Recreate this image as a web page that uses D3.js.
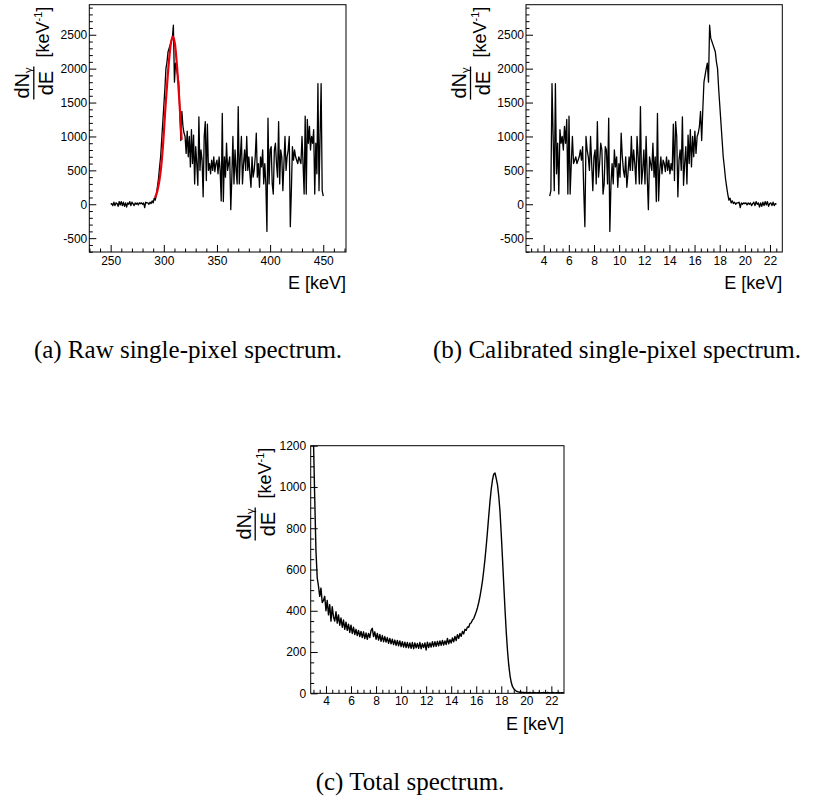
<!DOCTYPE html>
<html>
<head>
<meta charset="utf-8">
<script src="https://cdn.jsdelivr.net/npm/d3@7"></script>
<style>
  body { margin: 0; background: #fff; }
  svg text { font-family: "Liberation Sans", Arial, Helvetica, sans-serif; fill: #000; }
  svg text.caption { font-family: "Liberation Serif", "Times New Roman", serif; }
</style>
</head>
<body>
<div id="figure"></div>
<script>
// ---- Data ----

// raw single-pixel spectrum: one bin per raw unit, starting at 250
const rawStart = 250;
const rawStep = 1;
const rawCounts = [
  0, 10, -20, 30, -20, 20, 10, -30, 40, -10,
  40, -20, 30, -30, 20, -40, 20, 0, 40, -20,
  30, 10, -20, 20, 0, 20, -10, 20, 10, 20,
  0, 20, -50, 30, 20, 20, 0, 30, 10, 50,
  20, 90, 60, 150, 260, 380, 550, 700, 950, 1200,
  1450, 1700, 2000, 2100, 2250, 2300, 2350, 2400, 2450, 2640,
  1800, 2080, 2000, 1900, 1800, 1400, 940, 1370, 1150, 1050,
  1000, 750, 1080, 700, 1000, 550, 1100, 600, 1020, 300,
  850, 600, 280, 1290, 500, 800, 650, 110, 1000, 1220,
  350, 1180, 500, 600, 450, 650, 500, 700, 480, 600,
  650, 450, 700, 500, 50, 1340, 40, 700, 400, 900,
  500, 600, 700, -80, 400, 1000, 300, 800, 500, 300,
  1440, 300, 700, 1000, 300, 600, 800, 500, 1000, 500,
  700, 450, 250, 700, 400, 500, 700, 1050, 400, 600,
  250, 700, 550, 800, 300, 600, 300, -400, 1270, 300,
  800, 850, 300, 150, 800, 900, 600, 400, 1220, 300,
  800, 700, 200, 600, 1000, 500, 700, 800, 1000, -330,
  200, 850, 650, 800, 700, 650, 600, 700, 650, 600,
  1000, 600, 150, 1300, 150, 1250, 900, 1150, 800, 1000,
  900, 1100, 150, 900, 450, 1780, 200, 1000, 1780, 200,
  120
];

// red fit curve over the peak, [raw, counts]
const fitPoints = [
  [291.7, 97], [294, 200], [297, 480], [299, 820], [301.7, 1466],
  [304.8, 2105], [306.5, 2360], [308.6, 2474], [310.5, 2360],
  [312.5, 2020], [314.5, 1560], [316.8, 949]
];

// linear calibration raw -> keV
const calibOffset = 45.07;
const calibGain = -0.0902;

// total spectrum, 0.1 keV bins starting at 2.9 keV
const totalStart = 2.9;
const totalStep = 0.1;
const totalCounts = [
  1500, 1230, 950, 690, 560, 520, 470, 510, 440, 450,
  470, 400, 450, 380, 430, 350, 420, 370, 350, 395,
  340, 380, 330, 365, 320, 355, 310, 345, 305, 335,
  295, 330, 290, 320, 285, 310, 280, 305, 275, 300,
  270, 298, 265, 292, 262, 290, 270, 305, 315, 275,
  298, 262, 290, 258, 285, 252, 280, 250, 275, 248,
  270, 242, 266, 240, 262, 236, 258, 232, 256, 230,
  254, 226, 250, 224, 248, 222, 246, 220, 244, 218,
  246, 216, 244, 220, 242, 218, 246, 216, 240, 222,
  244, 210, 248, 222, 244, 224, 250, 226, 250, 228,
  252, 230, 254, 232, 256, 234, 254, 236, 266, 240,
  260, 244, 268, 250, 276, 256, 284, 266, 290, 276,
  300, 288, 310, 305, 322, 320, 338, 342, 355, 362,
  378, 395, 415, 440, 470, 505, 545, 595, 650, 715,
  785, 860, 930, 990, 1035, 1062, 1068, 1040, 1010, 955,
  880, 770, 650, 525, 405, 295, 205, 135, 85, 52,
  32, 22, 15, 11, 8, 6, 5, 5, 4, 4,
  3, 4, 3, 3, 4, 2, 3, 4, 3, 2,
  3, 4, 2, 3, 3, 4, 2, 3, 4, 3,
  2, 3, 4, 3, 2, 3, 3, 4, 2, 3,
  3, 2
];

// tick labels
const rawTicks = [250, 300, 350, 400, 450];
const rawMinorTicks = [230, 240, 260, 270, 280, 290, 310, 320, 330, 340, 360, 370, 380, 390, 410, 420, 430, 440, 460, 470];
const keVTicks = [4, 6, 8, 10, 12, 14, 16, 18, 20, 22];
const keVMinorTicks = [3, 3.5, 4.5, 5, 5.5, 6.5, 7, 7.5, 8.5, 9, 9.5, 10.5, 11, 11.5, 12.5, 13, 13.5,
  14.5, 15, 15.5, 16.5, 17, 17.5, 18.5, 19, 19.5, 20.5, 21, 21.5, 22.5];
const singleCountTicks = [-500, 0, 500, 1000, 1500, 2000, 2500];
const singleCountMinor = [-700, -600, -400, -300, -200, -100, 100, 200, 300, 400, 600, 700, 800, 900,
  1100, 1200, 1300, 1400, 1600, 1700, 1800, 1900, 2100, 2200, 2300, 2400, 2600, 2700, 2800, 2900];
const totalCountTicks = [0, 200, 400, 600, 800, 1000, 1200];
const totalCountMinor = [50, 100, 150, 250, 300, 350, 450, 500, 550, 650, 700, 750, 850, 900, 950, 1050, 1100, 1150];

const captions = [
  { text: '(a) Raw single-pixel spectrum.', x: 188, y: 358 },
  { text: '(b) Calibrated single-pixel spectrum.', x: 617, y: 358 },
  { text: '(c) Total spectrum.', x: 410, y: 790 }
];

// build point tables
const rawData = rawCounts.map((c, i) => ({ x: rawStart + i * rawStep, y: c }));
const calibData = rawData.map(d => ({ x: calibOffset + calibGain * d.x, y: d.y }));
const totalData = totalCounts.map((c, i) => ({ x: totalStart + i * totalStep, y: c }));
const fitData = fitPoints.map(p => ({ x: p[0], y: p[1] }));

class SpectrumPlot {

  constructor(_config, _data) {
    this.config = {
      svg: _config.svg,
      id: _config.id,
      frame: _config.frame,
      xDomain: _config.xDomain,
      yDomain: _config.yDomain,
      xTicks: _config.xTicks,
      xMinor: _config.xMinor,
      yTicks: _config.yTicks,
      yMinor: _config.yMinor,
      yLabelGap: _config.yLabelGap || 2,
      xLabelY: _config.xLabelY || 13,
      lineWidth: _config.lineWidth || 1.3,
      fit: _config.fit || null
    };
    this.data = _data;
    this.initVis();
  }

  initVis() {
    let vis = this;
    const f = vis.config.frame;

    vis.xScale = d3.scaleLinear().range([0, f.width]);
    vis.yScale = d3.scaleLinear().range([f.height, 0]);

    vis.g = vis.config.svg.append('g')
      .attr('transform', `translate(${f.left},${f.top})`);

    vis.g.append('clipPath')
      .attr('id', `clip-${vis.config.id}`)
      .append('rect')
      .attr('width', f.width)
      .attr('height', f.height);

    vis.plotG = vis.g.append('g').attr('clip-path', `url(#clip-${vis.config.id})`);
    vis.xAxisG = vis.g.append('g').attr('transform', `translate(0,${f.height})`);
    vis.xMinorG = vis.g.append('g').attr('transform', `translate(0,${f.height})`);
    vis.yAxisG = vis.g.append('g');
    vis.yMinorG = vis.g.append('g');

    vis.updateVis();
  }

  updateVis() {
    let vis = this;
    vis.xScale.domain(vis.config.xDomain);
    vis.yScale.domain(vis.config.yDomain);

    vis.xAxis = d3.axisBottom(vis.xScale).tickValues(vis.config.xTicks)
      .tickSize(-7).tickFormat(d => String(d));
    vis.xMinorAxis = d3.axisBottom(vis.xScale).tickValues(vis.config.xMinor)
      .tickSize(-3.5).tickFormat('');
    vis.yAxis = d3.axisLeft(vis.yScale).tickValues(vis.config.yTicks)
      .tickSize(-7).tickPadding(vis.config.yLabelGap).tickFormat(d => String(d));
    vis.yMinorAxis = d3.axisLeft(vis.yScale).tickValues(vis.config.yMinor)
      .tickSize(-3.5).tickFormat('');

    vis.renderVis();
  }

  renderVis() {
    let vis = this;
    const f = vis.config.frame;

    const line = d3.line()
      .x(d => vis.xScale(d.x))
      .y(d => vis.yScale(d.y));

    vis.plotG.append('path')
      .datum(vis.data)
      .attr('fill', 'none')
      .attr('stroke', '#000')
      .attr('stroke-width', vis.config.lineWidth)
      .attr('stroke-linejoin', 'round')
      .attr('d', line);

    if (vis.config.fit) {
      vis.plotG.append('path')
        .datum(vis.config.fit)
        .attr('fill', 'none')
        .attr('stroke', '#e8000b')
        .attr('stroke-width', 2.2)
        .attr('d', line.curve(d3.curveMonotoneX));
    }

    [vis.xAxisG.call(vis.xAxis), vis.xMinorG.call(vis.xMinorAxis),
     vis.yAxisG.call(vis.yAxis), vis.yMinorG.call(vis.yMinorAxis)].forEach(a => {
      a.select('.domain').remove();
      a.selectAll('line').attr('stroke', '#000').attr('stroke-width', 1);
      a.attr('font-size', 12).attr('font-family', null);
    });
    vis.xAxisG.selectAll('text').attr('dy', null).attr('y', vis.config.xLabelY);

    // frame
    vis.g.append('rect')
      .attr('width', f.width)
      .attr('height', f.height)
      .attr('fill', 'none')
      .attr('stroke', '#000')
      .attr('stroke-width', 1);

    // x title
    vis.g.append('text')
      .attr('x', f.width)
      .attr('y', f.height + 37)
      .attr('text-anchor', 'end')
      .attr('font-size', 18)
      .text('E [keV]');

    // y title, rotated, aligned to the top of the axis
    const yt = vis.g.append('g').attr('transform', 'rotate(-90)');
    const unit = yt.append('text')
      .attr('x', -2)
      .attr('y', -40)
      .attr('text-anchor', 'end')
      .attr('font-size', 18);
    unit.append('tspan').text('[keV');
    unit.append('tspan').attr('font-size', 11).attr('dy', -7).text('-1');
    unit.append('tspan').attr('dy', 7).text(']');
    const unitW = unit.node().getComputedTextLength();

    const num = yt.append('text').attr('font-size', 20).attr('y', -60);
    num.append('tspan').text('dN');
    num.append('tspan').attr('font-size', 11).attr('dy', 3).text('γ');
    const den = yt.append('text').attr('font-size', 20).attr('y', -36).text('dE');
    const numW = num.node().getComputedTextLength();
    const denW = den.node().getComputedTextLength();
    const fracW = Math.max(numW, denW) + 2;
    const cx = -(2 + unitW + 9 + fracW / 2);
    num.attr('x', cx - numW / 2);
    den.attr('x', cx - denW / 2);
    yt.append('line')
      .attr('x1', cx - fracW / 2).attr('x2', cx + fracW / 2)
      .attr('y1', -55.5).attr('y2', -55.5)
      .attr('stroke', '#000').attr('stroke-width', 1.3);
  }
}

const svg = d3.select('#figure').append('svg')
  .attr('width', 818)
  .attr('height', 806);

new SpectrumPlot({
  svg, id: 'a',
  frame: { left: 89.3, top: 4.7, width: 256.7, height: 247.3 },
  xDomain: [229.9, 471.4], yDomain: [-704, 2943],
  xTicks: rawTicks, xMinor: rawMinorTicks,
  yTicks: singleCountTicks, yMinor: singleCountMinor,
  yLabelGap: 2, xLabelY: 13,
  fit: fitData
}, rawData);

new SpectrumPlot({
  svg, id: 'b',
  frame: { left: 526, top: 4.7, width: 256.3, height: 247.3 },
  xDomain: [2.592, 22.98], yDomain: [-704, 2943],
  xTicks: keVTicks, xMinor: keVMinorTicks,
  yTicks: singleCountTicks, yMinor: singleCountMinor,
  yLabelGap: 2, xLabelY: 13
}, calibData);

new SpectrumPlot({
  svg, id: 'c',
  frame: { left: 310.7, top: 445.7, width: 253.3, height: 247.6 },
  xDomain: [2.78, 23.01], yDomain: [0, 1200],
  xTicks: keVTicks, xMinor: keVMinorTicks,
  yTicks: totalCountTicks, yMinor: totalCountMinor,
  yLabelGap: 4.5, xLabelY: 12, lineWidth: 1.4
}, totalData);

svg.selectAll('text.caption')
  .data(captions)
  .join('text')
  .attr('class', 'caption')
  .attr('x', d => d.x)
  .attr('y', d => d.y)
  .attr('text-anchor', 'middle')
  .attr('font-size', 25)
  .text(d => d.text);
</script>
</body>
</html>
